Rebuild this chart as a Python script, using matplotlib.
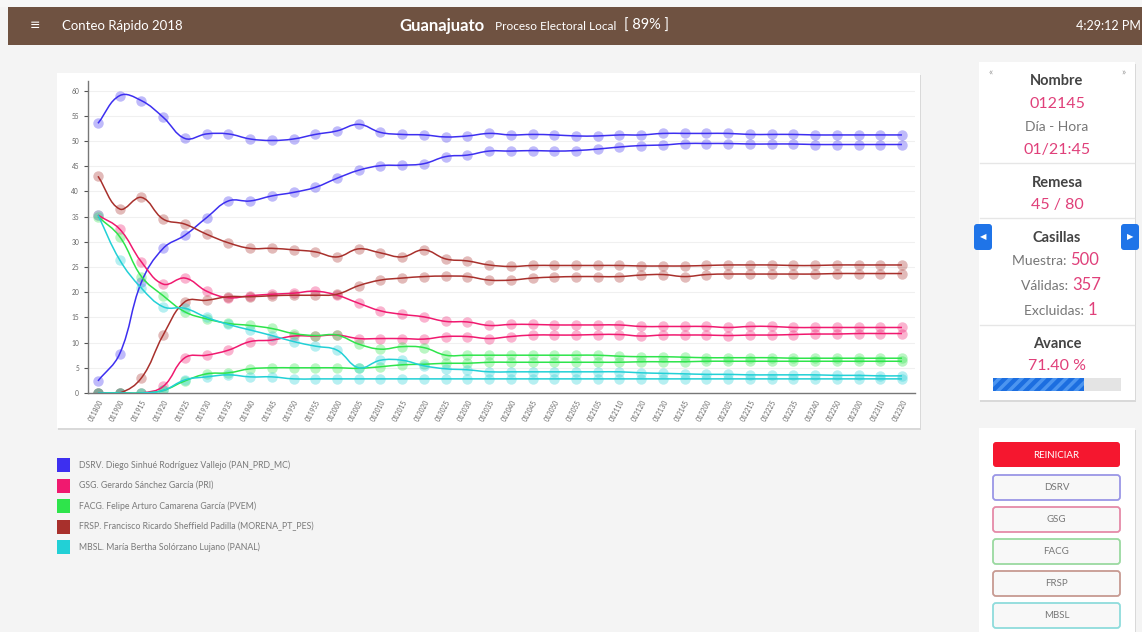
import numpy as np
import matplotlib
matplotlib.use("Agg")
import matplotlib.pyplot as plt
from matplotlib.path import Path
from matplotlib.patches import PathPatch, Rectangle, FancyBboxPatch

plt.rcParams["font.family"] = ["Lato", "DejaVu Sans"]
plt.rcParams["hatch.linewidth"] = 2.5

# ---- data (percent per remesa) ----
labels = ["011800", "011900", "011915", "011920", "011925", "011930", "011935",
          "011940", "011945", "011950", "011955", "012000", "012005", "012010",
          "012015", "012020", "012025", "012030", "012035", "012040", "012045",
          "012050", "012055", "012105", "012110", "012120", "012130", "012145",
          "012200", "012205", "012215", "012225", "012235", "012240", "012250",
          "012300", "012310", "012320"]

dsrv_a = [53.5, 59.0, 58.0, 54.7, 50.5, 51.4, 51.4, 50.4, 50.1, 50.4, 51.3, 52.0,
          53.3, 51.7, 51.3, 51.2, 50.8, 51.0, 51.5, 51.2, 51.3, 51.2, 51.0, 51.0,
          51.2, 51.2, 51.5, 51.5, 51.5, 51.5, 51.3, 51.3, 51.3, 51.2, 51.2, 51.2,
          51.2, 51.2]
dsrv_b = [2.4, 7.8, 22.0, 28.7, 31.3, 34.8, 38.1, 38.1, 39.1, 39.8, 40.8, 42.6,
          44.2, 45.1, 45.2, 45.5, 46.9, 47.2, 48.0, 48.0, 48.1, 48.0, 48.1, 48.4,
          48.8, 49.1, 49.2, 49.5, 49.5, 49.5, 49.4, 49.4, 49.4, 49.3, 49.3, 49.3,
          49.3, 49.3]
gsg_a = [35.3, 32.5, 26.0, 21.6, 22.8, 20.2, 18.9, 19.3, 19.6, 19.8, 20.2, 19.4,
         17.8, 16.3, 15.6, 15.1, 14.2, 14.1, 13.4, 13.6, 13.6, 13.5, 13.5, 13.5,
         13.5, 13.2, 13.2, 13.2, 13.2, 13.0, 13.2, 13.2, 13.0, 13.0, 13.0, 13.0,
         13.0, 13.0]
gsg_b = [0, 0, 0, 1.3, 7.0, 7.5, 8.5, 10.2, 10.5, 11.3, 11.3, 11.5, 10.8, 10.8,
         10.8, 10.7, 11.2, 11.2, 10.8, 11.2, 11.5, 11.5, 11.5, 11.6, 11.6, 11.3,
         11.5, 11.5, 11.5, 11.4, 11.5, 11.5, 11.6, 11.7, 11.7, 11.8, 11.8, 11.8]
facg_a = [35.0, 31.0, 23.1, 19.3, 16.1, 14.7, 13.8, 13.4, 12.8, 11.8, 11.4, 11.5,
          9.7, 8.7, 9.2, 9.0, 7.5, 7.5, 7.5, 7.5, 7.5, 7.5, 7.5, 7.5, 7.3, 7.2,
          7.2, 7.1, 7.0, 7.0, 7.0, 7.0, 6.9, 6.9, 6.9, 6.9, 6.9, 6.9]
facg_b = [0, 0, 0, 0.5, 2.4, 3.8, 4.0, 4.8, 5.0, 5.0, 5.0, 5.0, 4.9, 5.2, 5.6,
          5.7, 5.9, 5.9, 6.1, 6.1, 6.1, 6.1, 6.1, 6.1, 6.1, 6.2, 6.2, 6.2, 6.3,
          6.3, 6.3, 6.3, 6.3, 6.3, 6.3, 6.3, 6.3, 6.3]
frsp_a = [43.0, 36.5, 38.8, 34.5, 33.5, 31.5, 29.8, 28.7, 28.7, 28.4, 28.0, 27.0,
          28.6, 27.8, 27.0, 28.4, 26.6, 26.2, 25.4, 25.1, 25.3, 25.3, 25.3, 25.3,
          25.3, 25.2, 25.2, 25.2, 25.3, 25.4, 25.4, 25.4, 25.3, 25.3, 25.4, 25.4,
          25.4, 25.4]
frsp_b = [0, 0, 3.0, 11.5, 18.1, 18.4, 19.1, 19.1, 19.3, 19.4, 19.4, 19.6, 21.3,
          22.4, 22.8, 23.1, 23.2, 23.1, 22.4, 22.4, 22.8, 23.0, 23.1, 23.1, 23.1,
          23.4, 23.5, 23.1, 23.5, 23.6, 23.6, 23.6, 23.6, 23.6, 23.7, 23.7, 23.7,
          23.7]
mbsl_a = [35.3, 26.4, 20.8, 17.1, 16.8, 15.0, 13.6, 12.5, 11.4, 10.2, 9.3, 8.5,
          5.0, 6.5, 6.5, 5.4, 4.8, 4.6, 4.2, 4.2, 4.2, 4.2, 4.2, 4.2, 4.2, 4.0,
          3.9, 3.8, 3.7, 3.7, 3.6, 3.6, 3.6, 3.6, 3.5, 3.5, 3.4, 3.4]
mbsl_b = [0, 0, 0, 0.5, 2.6, 3.2, 3.6, 3.2, 3.2, 2.8, 2.8, 2.8, 2.8, 2.8, 2.8,
          2.8, 2.8, 2.8, 2.8, 2.8, 2.8, 2.8, 2.8, 2.8, 2.8, 2.8, 2.8, 2.8, 2.8,
          2.8, 2.8, 2.8, 2.8, 2.8, 2.8, 2.8, 2.8, 2.8]

candidates = ["DSRV. Diego Sinhué Rodríguez Vallejo (PAN_PRD_MC)",
              "GSG. Gerardo Sánchez García (PRI)",
              "FACG. Felipe Arturo Camarena García (PVEM)",
              "FRSP. Francisco Ricardo Sheffield Padilla (MORENA_PT_PES)",
              "MBSL. María Bertha Solórzano Lujano (PANAL)"]
short_names = ["DSRV", "GSG", "FACG", "FRSP", "MBSL"]
colors = ["#3d2ff0", "#f0196f", "#2ee44b", "#a8302c", "#22d0d6"]
border_colors = ["#9a96e6", "#e58aa8", "#9ad9a0", "#c79a92", "#8fdcdc"]
series = [(dsrv_a, dsrv_b), (gsg_a, gsg_b), (facg_a, facg_b),
          (frsp_a, frsp_b), (mbsl_a, mbsl_b)]

W, H = 1142, 632
fig = plt.figure(figsize=(W / 100, H / 100), dpi=100)
fig.patch.set_facecolor("#f4f4f4")

# background axes in pixel coordinates for the page decoration
bg = fig.add_axes([0, 0, 1, 1])
bg.set_xlim(0, W)
bg.set_ylim(H, 0)
bg.axis("off")


def card(x0, y0, x1, y1):
    bg.add_patch(Rectangle((x0 + 1, y0 + 2), x1 - x0, y1 - y0, color="#d9d9d9", lw=0))
    bg.add_patch(Rectangle((x0, y0), x1 - x0, y1 - y0, color="white", lw=0))


# header
bg.add_patch(Rectangle((0, 0), W, 7, color="#f7f7f7", lw=0))
bg.add_patch(Rectangle((8, 7), W, 38, color="#6f5241", lw=0))
bg.text(35, 26, "≡", color="white", fontsize=9, va="center", ha="center", family="DejaVu Sans")
bg.text(62, 26, "Conteo Rápido 2018", color="white", fontsize=9.5, va="center")
bg.text(399, 26, "Guanajuato", color="white", fontsize=12, fontweight="bold", va="center")
bg.text(495, 26.5, "Proceso Electoral Local", color="white", fontsize=8.6, va="center")
bg.text(624, 26, "[ 89% ]", color="white", fontsize=10.5, va="center")
bg.text(1141, 26, "4:29:12 PM", color="white", fontsize=9, ha="right", va="center")

# chart card and side cards
card(57, 73, 920, 428)
card(979, 62, 1135, 400)
card(979, 428, 1135, 640)

# legend
for k, (name, c) in enumerate(zip(candidates, colors)):
    yc = 465 + k * 20.5
    bg.add_patch(Rectangle((57, yc - 7), 13, 14, color=c, lw=0))
    bg.text(79, yc, name, color="#7a7a7a", fontsize=6.3, va="center")

# side panel content
pink = "#e0407a"
dark = "#444444"
grey = "#777777"
cx = 1057
bg.text(991, 72, "«", color="#999999", fontsize=7, ha="center", va="center")
bg.text(1123, 72, "»", color="#999999", fontsize=7, ha="center", va="center")
bg.text(cx, 81, "Nombre", color=dark, fontsize=10.5, fontweight="bold", ha="center", va="center")
bg.text(cx, 104, "012145", color=pink, fontsize=11.5, ha="center", va="center")
bg.text(cx, 127, "Día - Hora", color=grey, fontsize=10, ha="center", va="center")
bg.text(cx, 150, "01/21:45", color=pink, fontsize=11.5, ha="center", va="center")
for ys in (163, 218, 325):
    bg.plot([980, 1134], [ys, ys], color="#e6e6e6", lw=1)
bg.text(cx, 183, "Remesa", color=dark, fontsize=10.5, fontweight="bold", ha="center", va="center")
bg.text(cx, 205, "45 / 80", color=pink, fontsize=11.5, ha="center", va="center")
for bx, glyph in ((974, "◀"), (1121, "▶")):
    bg.add_patch(FancyBboxPatch((bx, 224), 18, 26, boxstyle="round,pad=0,rounding_size=3",
                                color="#1f74e8", lw=0))
    bg.text(bx + 9, 237, glyph, color="white", fontsize=6, ha="center", va="center",
            family="DejaVu Sans")
bg.text(cx, 238, "Casillas", color=dark, fontsize=10.5, fontweight="bold", ha="center", va="center")
side_rows = [("Muestra: ", "500", 261, 13), ("Válidas: ", "357", 286, 15),
             ("Excluidas: ", "1", 311, 31)]
for lab, val, yy, off in side_rows:
    bg.text(cx + off, yy, lab, color=grey, fontsize=10, ha="right", va="center")
    bg.text(cx + off, yy - 1, val, color=pink, fontsize=12, ha="left", va="center")
bg.text(cx, 344, "Avance", color=dark, fontsize=10.5, fontweight="bold", ha="center", va="center")
bg.text(cx, 366, "71.40 %", color=pink, fontsize=11.5, ha="center", va="center")
bg.add_patch(Rectangle((993, 378), 128, 13, color="#e4e4e4", lw=0))
bg.add_patch(Rectangle((993, 378), 128 * 0.714, 13, facecolor="#1c6ee0",
                       edgecolor="#4c95f0", hatch="///", lw=0))

# buttons
bg.add_patch(FancyBboxPatch((993, 442), 127, 25, boxstyle="round,pad=0,rounding_size=3",
                            color="#f5172f", lw=0))
bg.text(1056.5, 455, "REINICIAR", color="white", fontsize=7, ha="center", va="center")
for k, (nm, bc) in enumerate(zip(short_names, border_colors)):
    y0 = 475 + k * 32
    bg.add_patch(FancyBboxPatch((993, y0), 127, 25, boxstyle="round,pad=0,rounding_size=3",
                                facecolor="#f8f8f8", edgecolor=bc, lw=1.3))
    bg.text(1056.5, y0 + 12.5, nm, color="#777777", fontsize=7, ha="center", va="center")

# ---- chart ----
ax = fig.add_axes([88 / W, 1 - 393 / H, (915 - 88) / W, (393 - 81) / H])
ax.set_facecolor("none")
x = np.arange(len(labels))
SX, SY = 21.73, 5.04  # pixels per unit, used for spline tension like chart.js


def smooth_path(xs, ys, t=0.4):
    px = np.asarray(xs, float) * SX
    py = np.asarray(ys, float) * SY
    n = len(px)
    cp_in, cp_out = [], []
    for i in range(n):
        a, b = max(i - 1, 0), min(i + 1, n - 1)
        d01 = np.hypot(px[i] - px[a], py[i] - py[a])
        d12 = np.hypot(px[b] - px[i], py[b] - py[i])
        tot = d01 + d12
        s01 = d01 / tot if tot else 0
        s12 = d12 / tot if tot else 0
        dx, dy = px[b] - px[a], py[b] - py[a]
        cp_in.append((px[i] - t * s01 * dx, py[i] - t * s01 * dy))
        cp_out.append((px[i] + t * s12 * dx, py[i] + t * s12 * dy))
    verts = [(px[0], py[0])]
    codes = [Path.MOVETO]
    for i in range(n - 1):
        verts += [cp_out[i], cp_in[i + 1], (px[i + 1], py[i + 1])]
        codes += [Path.CURVE4] * 3
    verts = [(vx / SX, vy / SY) for vx, vy in verts]
    return Path(verts, codes)


for (sa, sb), c in zip(series, colors):
    for s in (sa, sb):
        ax.add_patch(PathPatch(smooth_path(x, s), facecolor="none", edgecolor=c,
                               lw=1.1, zorder=3))
        ax.plot(x, s, "o", ms=7.5, color=c, alpha=0.33, mec="none", zorder=2)

ax.set_xlim(-0.46, 37.6)
ax.set_ylim(0, 61.9)
ax.set_yticks(np.arange(0, 61, 5))
ax.set_xticks(x)
ax.set_xticklabels(labels, rotation=62, ha="right", rotation_mode="anchor")
ax.tick_params(axis="both", labelsize=4.8, colors="#555555", length=3, width=0.8,
               labelcolor="#666666")
ax.tick_params(axis="x", length=0, pad=4)
ax.grid(axis="y", color="#f0f0f0", lw=0.8)
ax.set_axisbelow(True)
for side in ("top", "right"):
    ax.spines[side].set_visible(False)
for side in ("left", "bottom"):
    ax.spines[side].set_color("#777777")
    ax.spines[side].set_linewidth(1.0)

fig.savefig("out.png", dpi=100, facecolor=fig.get_facecolor())
